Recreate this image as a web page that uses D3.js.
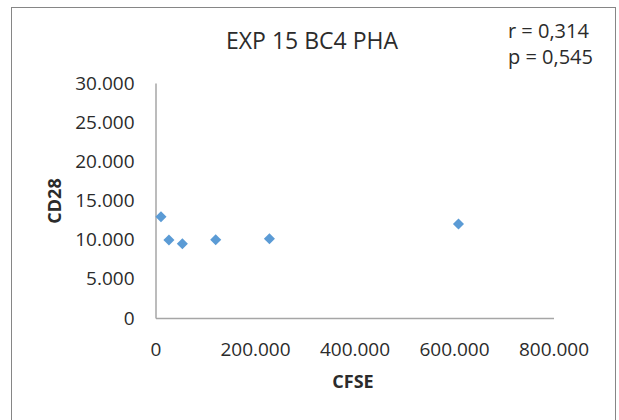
<!DOCTYPE html>
<html>
<head>
<meta charset="utf-8">
<script src="https://cdn.jsdelivr.net/npm/d3@7"></script>
<style>
  body { margin: 0; background: #fff; }
  text { font-family: "Open Sans", "Noto Sans", sans-serif; fill: #2b2b2b; }
</style>
</head>
<body>
<div id="chart"></div>
<script>
// CFSE vs CD28 values
var cfse = [11000, 27000, 54000, 121000, 229000, 609000];
var cd28 = [12930, 9960, 9490, 10000, 10120, 12000];
var xTicks = [0, 200000, 400000, 600000, 800000];
var yTicks = [0, 5000, 10000, 15000, 20000, 25000, 30000];
var statLines = ['r = 0,314', 'p = 0,545'];

var width = 619, height = 420;
var plot = { left: 155.5, right: 553.5, top: 83, bottom: 318 };

var svg = d3.select('#chart')
            .append('svg')
            .attr('width', width)
            .attr('height', height);

// chart border (bottom edge runs off the picture)
svg.append('rect')
    .attr('x', 11.5).attr('y', 7.5)
    .attr('width', 604).attr('height', 430)
    .attr('fill', 'none')
    .attr('stroke', '#868686')
    .attr('stroke-width', 1);

var x = d3.scaleLinear().domain([0, 800000]).range([plot.left, plot.right]);
var y = d3.scaleLinear().domain([0, 30000]).range([plot.bottom, plot.top]);

var fmt = d3.formatLocale({ decimal: ',', thousands: '.', grouping: [3], currency: ['', ''] }).format(',');

// x axis
var gx = svg.append('g')
    .attr('transform', 'translate(0,' + plot.bottom + ')')
    .call(d3.axisBottom(x).tickValues(xTicks).tickFormat(fmt).tickSize(0).tickPadding(25));
gx.select('.domain').attr('stroke', '#a6a6a6').attr('stroke-width', 1.5);
gx.selectAll('text')
    .style('font-size', '19px')
    .attr('fill', '#2b2b2b');

// y axis
var gy = svg.append('g')
    .attr('transform', 'translate(' + plot.left + ',0)')
    .call(d3.axisLeft(y).tickValues(yTicks).tickFormat(fmt).tickSize(0).tickPadding(21));
gy.select('.domain').attr('stroke', '#a6a6a6').attr('stroke-width', 1.5);
gy.selectAll('text')
    .style('font-size', '19px')
    .attr('fill', '#2b2b2b');

// points
svg.append('g')
    .selectAll('path')
    .data(cfse)
    .enter()
    .append('path')
    .attr('d', d3.symbol().type(d3.symbolDiamond2).size(78))
    .attr('transform', function (d, i) {
        return 'translate(' + x(d) + ',' + y(cd28[i]) + ')';
    })
    .attr('fill', '#5b9bd5');

// title
svg.append('text')
    .attr('x', 312).attr('y', 49)
    .attr('text-anchor', 'middle')
    .style('font-size', '23px')
    .text('EXP 15 BC4 PHA');

// r / p annotation
svg.append('g')
    .selectAll('text')
    .data(statLines)
    .enter()
    .append('text')
    .attr('x', 508)
    .attr('y', function (d, i) { return 38 + i * 26; })
    .style('font-size', '20px')
    .text(function (d) { return d; });

// axis titles
svg.append('text')
    .attr('x', 353).attr('y', 388)
    .attr('text-anchor', 'middle')
    .style('font-size', '18px')
    .style('font-weight', 'bold')
    .text('CFSE');

svg.append('text')
    .attr('transform', 'translate(61,201) rotate(-90)')
    .attr('text-anchor', 'middle')
    .style('font-size', '18px')
    .style('font-weight', 'bold')
    .text('CD28');
</script>
</body>
</html>
